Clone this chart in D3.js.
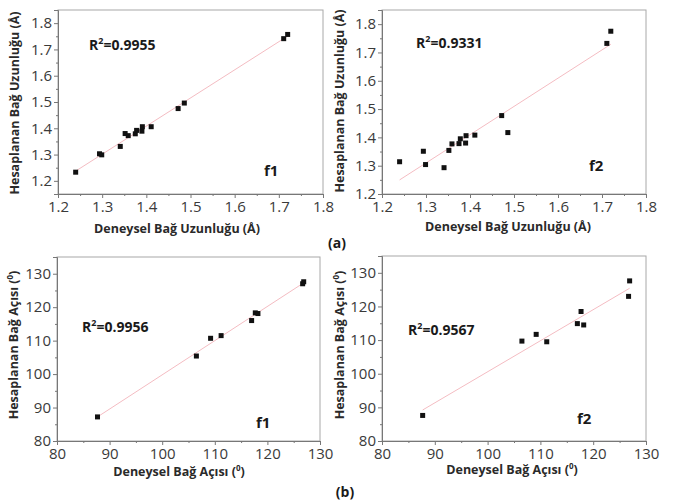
<!DOCTYPE html>
<html>
<head>
<meta charset="utf-8">
<script src="https://cdn.jsdelivr.net/npm/d3@7"></script>
<style>
    body { margin: 0; background: #fff; }
    svg { display: block; font-family: "Open Sans", sans-serif; }
</style>
</head>
<body>
<svg id="chart" width="673" height="501"></svg>
<script>
    // bond lengths (Å)
    const lengthExp = [1.240, 1.294, 1.299, 1.341, 1.352, 1.359, 1.375, 1.378, 1.390, 1.391, 1.411, 1.472, 1.486, 1.711, 1.720];
    const lengthF1 = [1.233, 1.303, 1.299, 1.331, 1.380, 1.372, 1.379, 1.392, 1.389, 1.406, 1.406, 1.475, 1.496, 1.741, 1.757];
    const lengthF2 = [1.314, 1.351, 1.304, 1.293, 1.354, 1.377, 1.378, 1.395, 1.380, 1.406, 1.408, 1.477, 1.417, 1.732, 1.775];

    // bond angles (degrees)
    const angleExp = [87.7, 106.5, 109.2, 111.2, 117.0, 117.7, 118.2, 126.7, 126.9];
    const angleF1 = [87.2, 105.4, 110.7, 111.5, 116.0, 118.3, 118.1, 127.0, 127.6];
    const angleF2 = [87.6, 109.7, 111.7, 109.5, 114.9, 118.5, 114.5, 123.0, 127.6];

    const lengthTicks = [1.2, 1.3, 1.4, 1.5, 1.6, 1.7, 1.8];
    const angleTicks = [80, 90, 100, 110, 120, 130];

    const svg = d3.select("#chart");

    // simple least squares fit
    function fit(xs, ys) {
        const mx = d3.mean(xs), my = d3.mean(ys);
        let sxy = 0, sxx = 0;
        xs.forEach((x, i) => { sxy += (x - mx) * (ys[i] - my); sxx += (x - mx) * (x - mx); });
        const b = sxy / sxx;
        return { a: my - b * mx, b: b };
    }

    function drawPanel(p) {
        const g = svg.append("g");
        const x = d3.scaleLinear().domain(p.xDomain).range([p.left, p.right]);
        const y = d3.scaleLinear().domain(p.yDomain).range([p.bottom, p.top]);

        // frame
        g.append("rect")
            .attr("x", p.left).attr("y", p.top)
            .attr("width", p.right - p.left).attr("height", p.bottom - p.top)
            .attr("fill", "none").attr("stroke", "#a8a8a8").attr("stroke-width", 1);

        const step = p.ticks[1] - p.ticks[0];
        const minor = d3.range(p.ticks.length - 1).map(i => p.ticks[i] + step / 2);

        // x axis
        const xAxis = g.append("g").attr("transform", "translate(0," + p.bottom + ")")
            .call(d3.axisBottom(x).tickValues(p.ticks).tickSize(4).tickPadding(3)
                .tickFormat(p.fmt));
        xAxis.append("g").call(d3.axisBottom(x).tickValues(minor).tickSize(2).tickFormat(""))
            .select(".domain").remove();

        // y axis
        const yTicks = p.ticks.filter(v => v >= p.yDomain[0] - 1e-9 && v <= p.yDomain[1]);
        const yAxis = g.append("g").attr("transform", "translate(" + p.left + ",0)")
            .call(d3.axisLeft(y).tickValues(yTicks).tickSize(4).tickPadding(2)
                .tickFormat(p.fmt));
        const yMinor = d3.range(p.yDomain[0], p.yDomain[1], step / 2)
            .filter(v => !yTicks.some(t => Math.abs(t - v) < 1e-6));
        yAxis.append("g").call(d3.axisLeft(y).tickValues(yMinor).tickSize(2).tickFormat(""))
            .select(".domain").remove();

        [xAxis, yAxis].forEach(a => {
            a.selectAll(".domain").attr("stroke", "#777");
            a.selectAll(".tick line").attr("stroke", "#777");
            a.selectAll(".tick text").attr("fill", "#3a3a3a").style("font-size", "15px")
                .style("font-family", "'Open Sans', sans-serif");
        });

        // regression line
        const f = fit(p.xs, p.ys);
        const x0 = d3.min(p.xs), x1 = d3.max(p.xs);
        g.append("line")
            .attr("x1", x(x0)).attr("y1", y(f.a + f.b * x0))
            .attr("x2", x(x1)).attr("y2", y(f.a + f.b * x1))
            .attr("stroke", "#f4bcc2").attr("stroke-width", 1);

        // points
        g.selectAll("rect.pt").data(p.xs).enter().append("rect")
            .attr("class", "pt")
            .attr("x", (d) => x(d) - 2.5)
            .attr("y", (d, i) => y(p.ys[i]) - 2.5)
            .attr("width", 5).attr("height", 5)
            .attr("fill", "#111");

        // axis titles
        const xt = g.append("text")
            .attr("x", p.xTitlePos[0]).attr("y", p.xTitlePos[1])
            .attr("text-anchor", "middle")
            .style("font-size", "12.5px").style("font-weight", "bold").attr("fill", "#2a2a2a");
        xt.append("tspan").text(p.xTitle);
        if (p.sup) {
            xt.append("tspan").text("0").attr("dy", -5).style("font-size", "8px");
            xt.append("tspan").text(")").attr("dy", 5);
        }

        const yt = g.append("text")
            .attr("transform", "translate(" + p.yTitlePos[0] + "," + p.yTitlePos[1] + ") rotate(-90)")
            .attr("text-anchor", "middle")
            .style("font-size", "12.5px").style("font-weight", "bold").attr("fill", "#2a2a2a");
        yt.append("tspan").text(p.yTitle);
        if (p.sup) {
            yt.append("tspan").text("0").attr("dy", -5).style("font-size", "8px");
            yt.append("tspan").text(")").attr("dy", 5);
        }

        // R² label
        const r = g.append("text")
            .attr("x", p.rPos[0]).attr("y", p.rPos[1])
            .style("font-size", "14px").style("font-weight", "bold").attr("fill", "#1a1a1a");
        r.append("tspan").text("R");
        r.append("tspan").text("2").attr("dy", -6).style("font-size", "9px");
        r.append("tspan").text("=" + p.r2).attr("dy", 6);

        g.append("text")
            .attr("x", p.fPos[0]).attr("y", p.fPos[1])
            .style("font-size", "15px").style("font-weight", "bold").attr("fill", "#1a1a1a")
            .text(p.name);
    }

    const fmtLen = d3.format(".1f");
    const fmtAng = d3.format("d");

    drawPanel({
        left: 58, right: 323, top: 10, bottom: 194,
        xDomain: [1.2, 1.8], yDomain: [1.15, 1.85], ticks: lengthTicks, fmt: fmtLen,
        xs: lengthExp, ys: lengthF1,
        xTitle: "Deneysel Bağ Uzunluğu (Å)", yTitle: "Hesaplanan Bağ Uzunluğu (Å)",
        xTitlePos: [177, 233], yTitlePos: [19, 103],
        r2: "0.9955", rPos: [89, 50], name: "f1", fPos: [264, 176]
    });
    drawPanel({
        left: 382, right: 646, top: 10, bottom: 194,
        xDomain: [1.2, 1.8], yDomain: [1.2, 1.85], ticks: lengthTicks, fmt: fmtLen,
        xs: lengthExp, ys: lengthF2,
        xTitle: "Deneysel Bağ Uzunluğu (Å)", yTitle: "Hesaplanan Bağ Uzunluğu (Å)",
        xTitlePos: [508, 231], yTitlePos: [344, 101],
        r2: "0.9331", rPos: [416, 48], name: "f2", fPos: [589, 171]
    });
    drawPanel({
        left: 57, right: 320, top: 257, bottom: 441,
        xDomain: [80, 130], yDomain: [80, 135], ticks: angleTicks, fmt: fmtAng,
        xs: angleExp, ys: angleF1, sup: true,
        xTitle: "Deneysel Bağ Açısı (", yTitle: "Hesaplanan Bağ Açısı (",
        xTitlePos: [179, 476], yTitlePos: [18, 345],
        r2: "0.9956", rPos: [82, 332], name: "f1", fPos: [256, 428]
    });
    drawPanel({
        left: 382, right: 646, top: 256, bottom: 441,
        xDomain: [80, 130], yDomain: [80, 135], ticks: angleTicks, fmt: fmtAng,
        xs: angleExp, ys: angleF2, sup: true,
        xTitle: "Deneysel Bağ Açısı (", yTitle: "Hesaplanan Bağ Açısı (",
        xTitlePos: [512, 474], yTitlePos: [344, 345],
        r2: "0.9567", rPos: [408, 335], name: "f2", fPos: [577, 424]
    });

    // sub-figure labels
    svg.append("text").attr("x", 337).attr("y", 248).attr("text-anchor", "middle")
        .style("font-size", "14px").style("font-weight", "bold").attr("fill", "#1a1a1a").text("(a)");
    svg.append("text").attr("x", 345).attr("y", 497).attr("text-anchor", "middle")
        .style("font-size", "14px").style("font-weight", "bold").attr("fill", "#1a1a1a").text("(b)");
</script>
</body>
</html>
